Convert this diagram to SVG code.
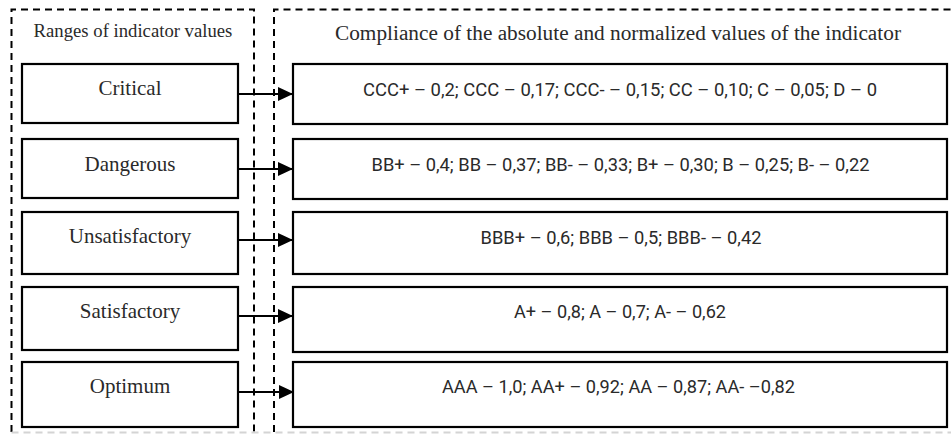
<svg xmlns="http://www.w3.org/2000/svg" width="951" height="434" viewBox="0 0 951 434">
<defs>
<style>
.panel{fill:none;stroke:#000;stroke-width:2;stroke-dasharray:7 5}
.panel-bottom{fill:none;stroke:#d4d4d4;stroke-width:2;stroke-dasharray:7 5}
.box{fill:#fff;stroke:#000;stroke-width:2.2}
.title{font-family:"Liberation Serif","Times New Roman",serif;fill:#2a2a2a}
.lbl{font-family:"Liberation Serif","Times New Roman",serif;font-size:21px;fill:#2a2a2a;text-anchor:middle}
.val{font-family:Roboto,"Liberation Sans",sans-serif;font-size:19px;fill:#2a2a2a;text-anchor:middle}
.conn{stroke:#000;stroke-width:2;fill:none}
</style>
<marker id="arrow" viewBox="0 0 15 14" refX="15" refY="7" markerWidth="15" markerHeight="14" markerUnits="userSpaceOnUse" orient="auto">
<path d="M0,0 L15,7 L0,14 Z" fill="#000"/>
</marker>
</defs>
<rect width="951" height="434" fill="#fff"/>

<g id="panel-ranges">
<path class="panel" d="M11.5,432 V9.5 H254 V432"/>
<text class="title" x="133" y="37" font-size="18.7" text-anchor="middle">Ranges of indicator values</text>
</g>
<g id="panel-compliance">
<path class="panel" d="M274,432 V9.5 H960"/>
<text class="title" x="618" y="40" font-size="21.3" text-anchor="middle">Compliance of the absolute and normalized values of the indicator</text>
</g>
<path class="panel-bottom" d="M11.5,432.5 H960"/>

<g id="range-critical"><rect class="box" x="22" y="64" width="216" height="59"/><text class="lbl" x="130" y="95">Critical</text></g>
<g id="range-dangerous"><rect class="box" x="22" y="139" width="216" height="59"/><text class="lbl" x="130" y="171">Dangerous</text></g>
<g id="range-unsatisfactory"><rect class="box" x="22" y="212" width="216" height="62"/><text class="lbl" x="130" y="243">Unsatisfactory</text></g>
<g id="range-satisfactory"><rect class="box" x="22" y="287" width="216" height="63"/><text class="lbl" x="130" y="318">Satisfactory</text></g>
<g id="range-optimum"><rect class="box" x="22" y="362" width="216" height="65"/><text class="lbl" x="130" y="393">Optimum</text></g>

<g id="value-critical"><rect class="box" x="293" y="64" width="654" height="60"/><text class="val" x="620" y="96" textLength="514" lengthAdjust="spacingAndGlyphs">CCC+ – 0,2; CCC – 0,17; CCC- – 0,15; CC – 0,10; C – 0,05; D – 0</text></g>
<g id="value-dangerous"><rect class="box" x="293" y="139" width="654" height="60"/><text class="val" x="620.5" y="171" textLength="498" lengthAdjust="spacingAndGlyphs">BB+ – 0,4; BB – 0,37; BB- – 0,33; B+ – 0,30; B – 0,25; B- – 0,22</text></g>
<g id="value-unsatisfactory"><rect class="box" x="293" y="212" width="654" height="62"/><text class="val" x="621" y="244" textLength="281" lengthAdjust="spacingAndGlyphs">BBB+ – 0,6; BBB – 0,5; BBB- – 0,42</text></g>
<g id="value-satisfactory"><rect class="box" x="293" y="287" width="654" height="65"/><text class="val" x="620" y="318" textLength="212" lengthAdjust="spacingAndGlyphs">A+ – 0,8; A – 0,7; A- – 0,62</text></g>
<g id="value-optimum"><rect class="box" x="293" y="362" width="654" height="65"/><text class="val" x="618.5" y="393" textLength="353" lengthAdjust="spacingAndGlyphs">AAA – 1,0; AA+ – 0,92; AA – 0,87; AA- –0,82</text></g>

<g id="connectors">
<path class="conn" d="M238,94 H293" marker-end="url(#arrow)"/>
<path class="conn" d="M238,169 H293" marker-end="url(#arrow)"/>
<path class="conn" d="M238,240 H293" marker-end="url(#arrow)"/>
<path class="conn" d="M238,316 H293" marker-end="url(#arrow)"/>
<path class="conn" d="M238,392 H294" marker-end="url(#arrow)"/>
</g>
</svg>
